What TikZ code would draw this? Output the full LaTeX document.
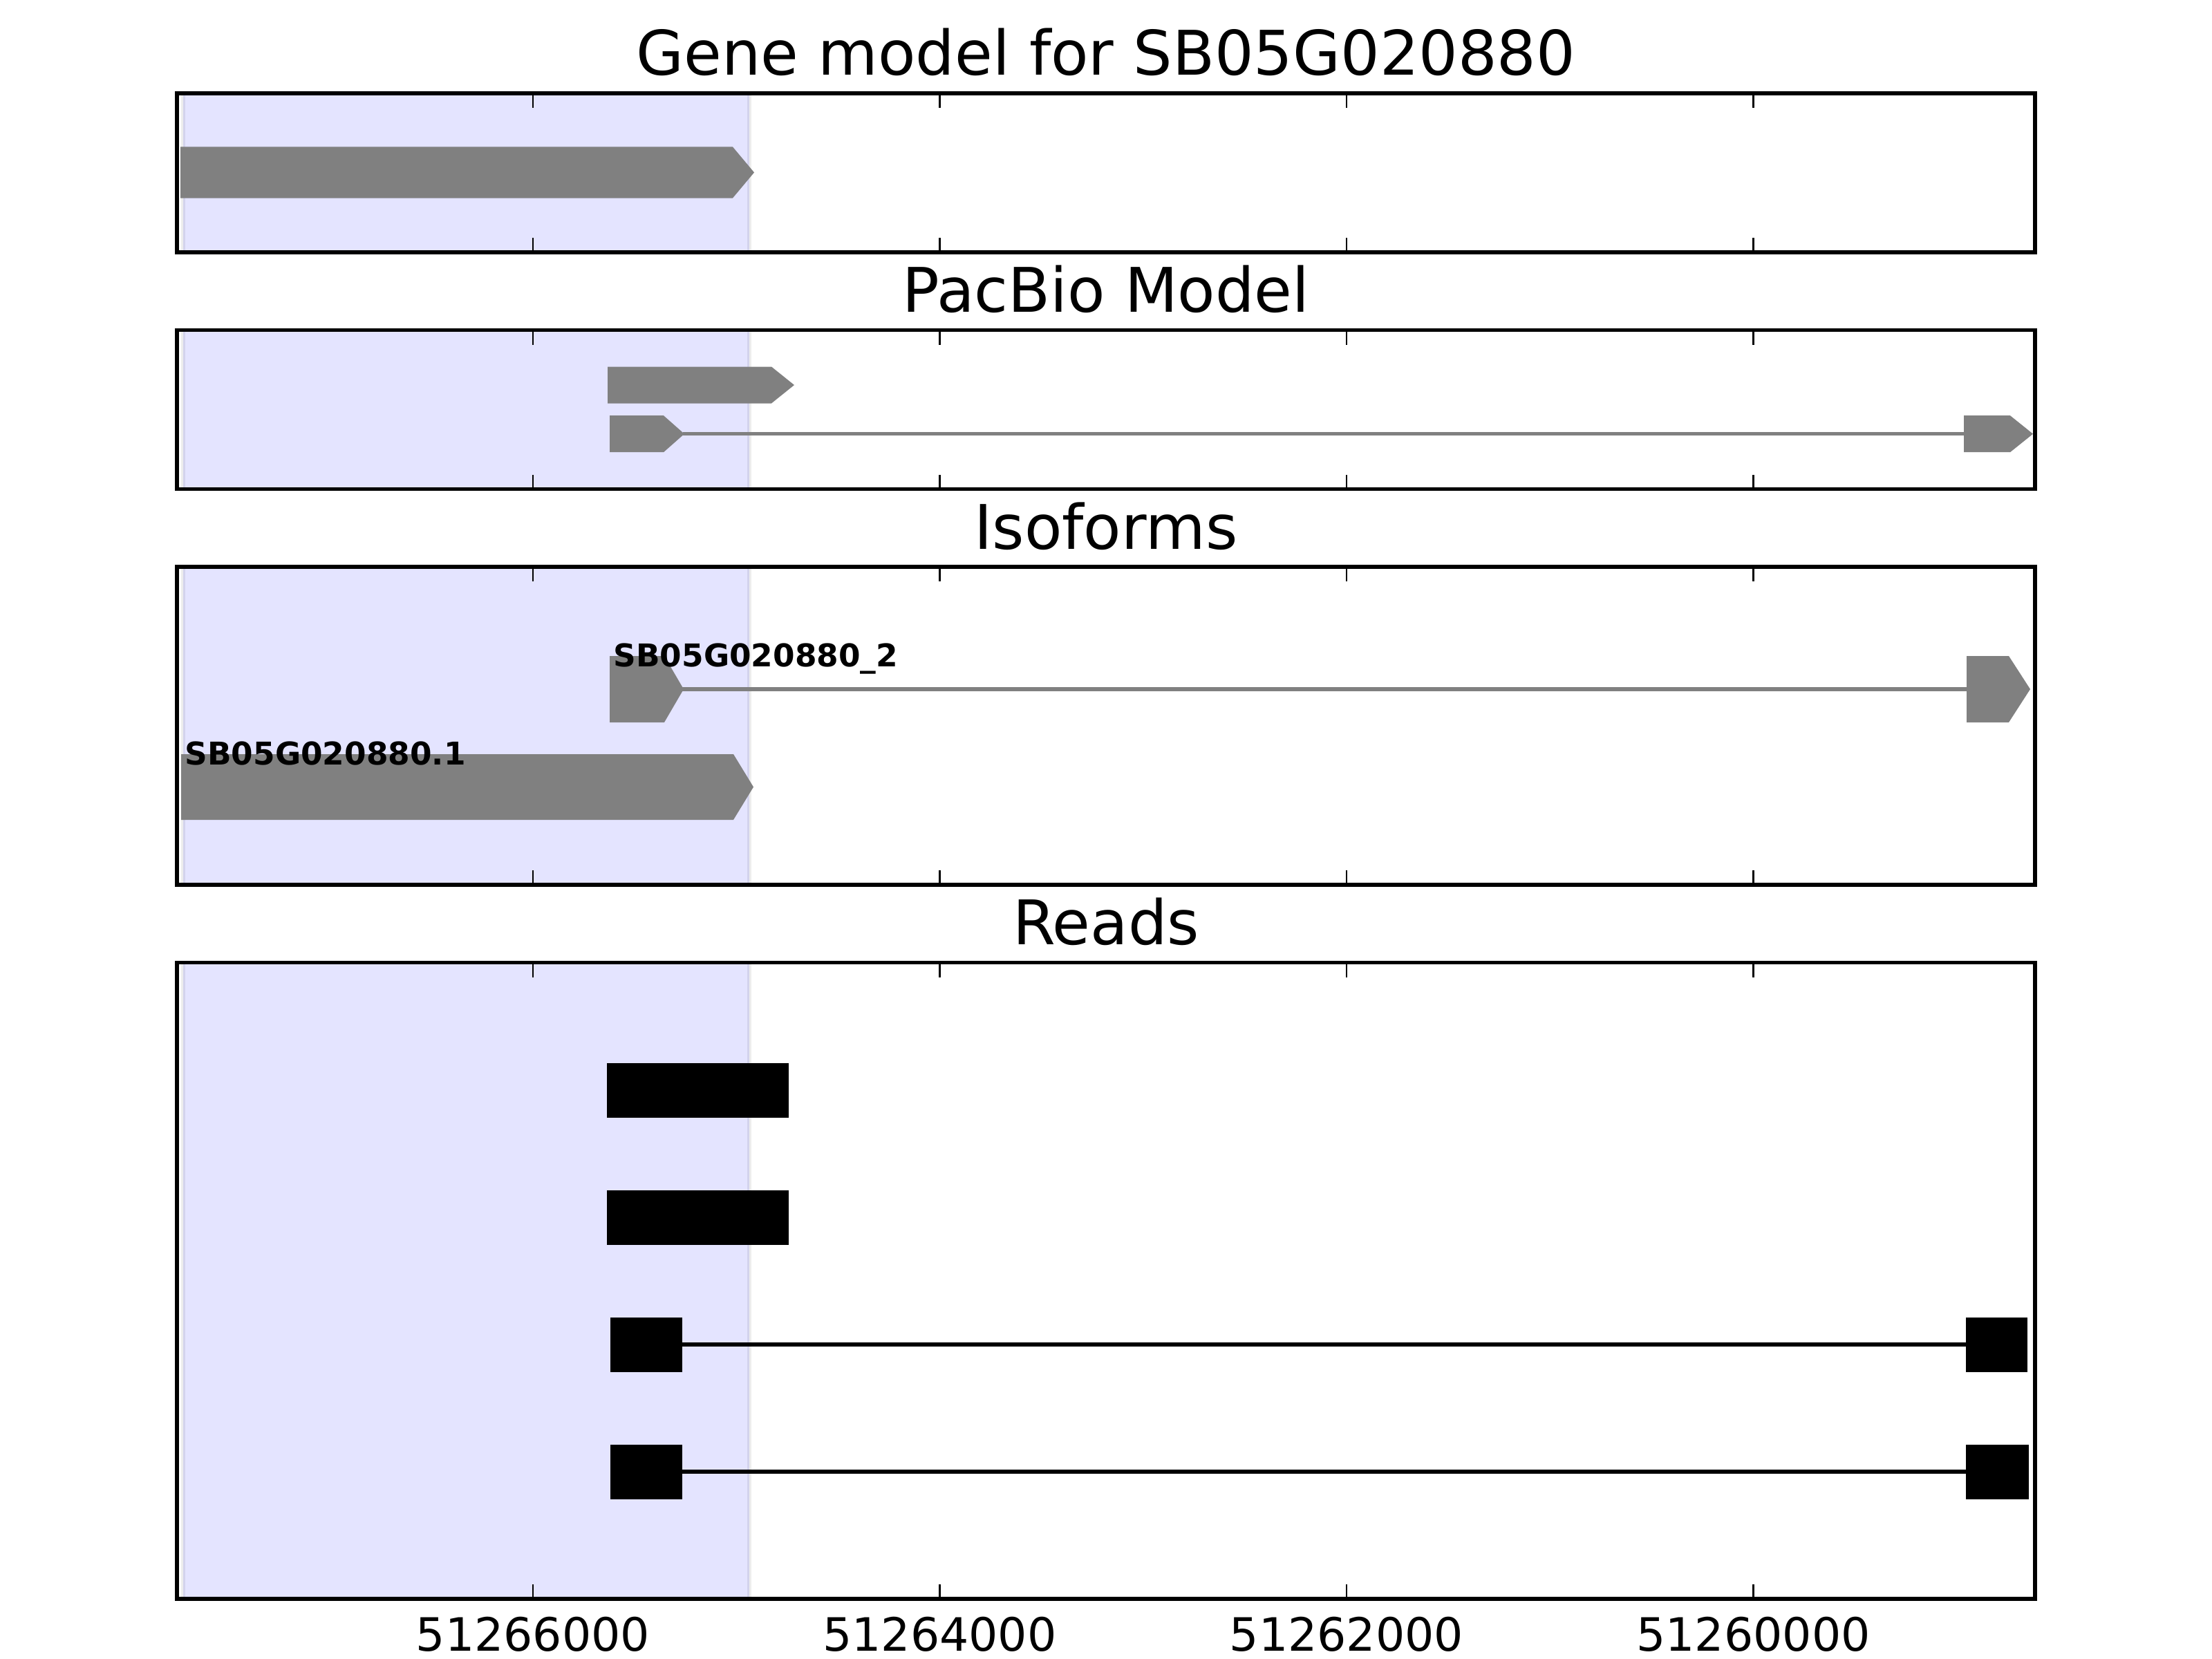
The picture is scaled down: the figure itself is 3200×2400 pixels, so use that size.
\documentclass[tikz,border=0pt]{standalone}
\usepackage{fontspec}
\setmainfont{DejaVu Sans}
\definecolor{exongray}{HTML}{808080}
\definecolor{spanblue}{HTML}{E4E4FF}
\newcommand{\garrow}[5]{\fill[exongray] (#1,#4-#5) -- (#2,#4-#5) -- (#3,#4) -- (#2,#4+#5) -- (#1,#4+#5) -- cycle;}
\newcommand{\readbox}[3]{\fill[black] (#1,#3-39.5) rectangle (#2,#3+39.5);}
\tikzset{
  spine/.style={line width=1.58pt, line cap=rect, draw=black},
  tickmark/.style={line width=0.8pt, draw=black},
  ptitle/.style={anchor=base, inner sep=0pt, font=\fontsize{25.3}{30}\selectfont},
  ticklabel/.style={anchor=base, inner sep=0pt, font=\fontsize{18.9}{22}\selectfont},
  isolabel/.style={anchor=base west, inner sep=0pt, font=\bfseries\fontsize{12.9}{15}\selectfont},
  intron/.style={line width=1.45pt, draw=exongray},
  readintron/.style={line width=1.45pt, draw=black},
  spanedge/.style={line width=1.5pt, draw=black, draw opacity=0.07},
}
\begin{document}
\begin{tikzpicture}[x=0.01cm, y=-0.01cm]
\useasboundingbox (0,0) rectangle (3200,2400);
\fill[white] (0,0) rectangle (3200,2400);
% panel geometry
\def\pL{256}\def\pR{2944}
% blue spans
\foreach \t/\b in {135/365, 477.5/707.6, 820/1280.2, 1392.6/2313}{
  \fill[spanblue] (265,\t) rectangle (1084,\b);
  \draw[spanedge] (265,\t) -- (265,\b);
  \draw[spanedge] (1084,\t) -- (1084,\b);
}
% Panel 1: gene model
\garrow{261}{1060}{1091}{249.5}{37}
% Panel 2: PacBio model
\garrow{879}{1116}{1149}{557}{26.5}
\draw[intron] (988,627.7) -- (2842,627.7);
\garrow{882}{960}{990}{627.7}{26.5}
\garrow{2841}{2908}{2941}{627.7}{26.5}
% Panel 3: isoforms
\draw[intron] (987,997) -- (2846,997);
\garrow{882}{961}{989}{997}{48}
\garrow{2845}{2906}{2937}{997}{48}
\garrow{262}{1061}{1090}{1138.5}{47.5}
\node[isolabel] (lab2) at (887,964) {SB05G020880\_2};
\node[isolabel] (lab1) at (267,1106) {SB05G020880.1};
% Panel 4: reads
\readbox{878}{1141}{1577}
\readbox{878}{1141}{1761}
\draw[readintron] (986,1945) -- (2845,1945);
\readbox{882.5}{986.7}{1945}
\readbox{2844.3}{2932.7}{1945}
\draw[readintron] (986,2129) -- (2845,2129);
\readbox{883.3}{986.7}{2129}
\readbox{2844.3}{2934.7}{2129}
% ticks and spines
\foreach \t/\b in {135/365, 477.5/707.6, 820/1280.2, 1392.6/2313}{
  \foreach \xt in {771,1359.5,1948,2536.5}{
    \draw[tickmark] (\xt,\t) -- (\xt,\t+21);
    \draw[tickmark] (\xt,\b) -- (\xt,\b-21);
  }
  \draw[spine] (\pL,\t) rectangle (\pR,\b);
}
% titles
\node[ptitle] (t1) at (1600,109) {Gene model for SB05G020880};
\node[ptitle] (t2) at (1600,451.5) {PacBio Model};
\node[ptitle] (t3) at (1600,794) {Isoforms};
\node[ptitle] (t4) at (1600,1366.6) {Reads};
% tick labels
\node[ticklabel] (x1) at (771,2388) {51266000};
\node[ticklabel] (x2) at (1359.5,2388) {51264000};
\node[ticklabel] (x3) at (1948,2388) {51262000};
\node[ticklabel] (x4) at (2536.5,2388) {51260000};
\end{tikzpicture}
\end{document}
